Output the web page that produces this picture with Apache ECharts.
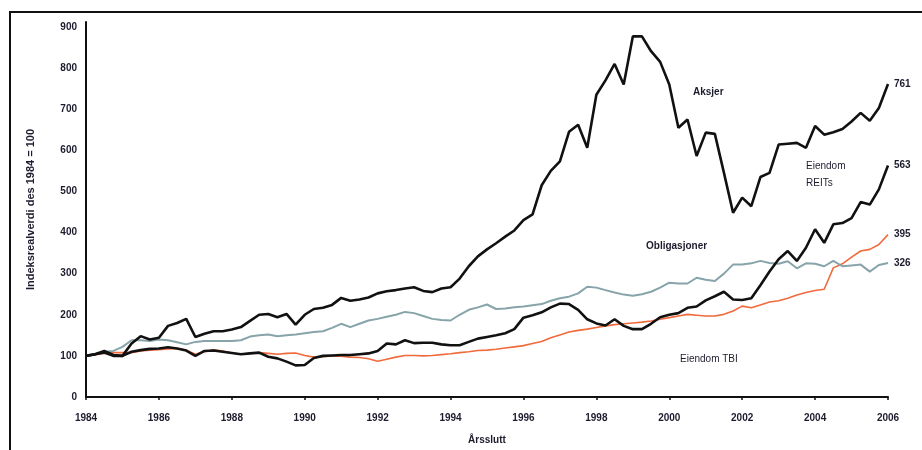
<!DOCTYPE html>
<html>
<head>
<meta charset="utf-8">
<script src="https://cdn.jsdelivr.net/npm/echarts@6/dist/echarts.min.js"></script>
<style>
  html, body { margin: 0; padding: 0; background: #fff; }
  #chart { width: 922px; height: 450px; }
</style>
</head>
<body>
<div id="chart"></div>
<script>
// quarterly index values, des 1984 = 100
const quarters = [];
for (let i = 0; i <= 88; i++) quarters.push(1984 + i / 4);

const aksjer = [
  100, 104, 112, 102, 100, 130, 148, 140, 144, 173, 180, 190,
  146, 154, 160, 160, 164, 170, 185, 200, 202, 194, 202, 176,
  200, 214, 217, 224, 241, 234, 237, 242, 252, 257, 260, 264,
  267, 258, 255, 264, 267, 288, 318, 342, 359, 374, 390, 405,
  430, 444, 515, 550, 573, 645, 662, 606, 735, 770, 810, 760,
  877, 877, 841, 815, 760, 655, 675, 586, 643, 640, 545, 448,
  485, 464, 535, 545, 614, 616, 618, 606, 659, 638, 644, 652,
  670, 691, 672, 703, 761
];
const reits = [
  100, 104, 108, 100, 100, 110, 114, 117, 118, 121, 118, 113,
  100, 112, 113, 110, 107, 104, 106, 108, 98, 94, 86, 77,
  78, 95, 100, 101, 102, 102, 104, 106, 112, 130, 128, 138,
  131, 132, 132, 128, 126, 126, 134, 142, 146, 150, 155, 165,
  193, 199, 206, 218, 227, 226, 212, 189, 179, 174, 189, 173,
  165, 165, 178, 194, 200, 204, 217, 220, 235, 245, 256, 237,
  236, 240, 272, 305, 335, 355, 331, 363, 408, 375, 420, 423,
  435, 474, 468, 505, 563
];
const obligasjoner = [
  100, 104, 110, 112, 122, 138, 138, 136, 140, 138, 133, 128,
  134, 136, 136, 136, 136, 138, 147, 150, 152, 148, 150, 152,
  155, 158, 160, 168, 178, 170, 178, 186, 190, 195, 200, 207,
  204, 197, 190, 187, 186, 200, 212, 218, 225, 214, 215, 218,
  220, 223, 226, 234, 240, 244, 252, 268, 266, 260, 254, 249,
  246, 250, 256, 266, 278, 276, 276, 290, 285, 282, 300, 322,
  322, 325, 331, 326, 324, 330, 313, 325, 324, 318, 331, 318,
  320, 322, 305, 321, 326
];
const tbi = [
  100, 103, 106, 108, 108, 108, 112, 114, 115, 117, 118, 114,
  104, 110, 115, 112, 107, 104, 106, 108, 106, 104, 106, 107,
  101, 97, 98, 100, 99, 97, 96, 93, 87, 92, 97, 101,
  101, 100, 101, 103, 105, 108, 110, 113, 114, 116, 119, 122,
  125, 130, 135, 144, 151, 158, 162, 165, 169, 173, 176, 178,
  180, 182, 185, 189, 193, 197, 201, 199, 197, 197, 201, 209,
  221, 217, 224, 231, 234, 240, 248, 254, 259, 262, 314, 324,
  340, 355, 359, 371, 395
];

const textColor = '#1c1c2e';
const font = 'Liberation Sans, Arial, sans-serif';

function pairs(values) {
  return quarters.map((q, i) => [q, values[i]]);
}

function lineSeries(name, values, color, width) {
  return {
    name: name,
    type: 'line',
    data: pairs(values),
    showSymbol: false,
    symbol: 'none',
    lineStyle: { color: color, width: width },
    itemStyle: { color: color },
    endLabel: {
      show: true,
      distance: 6,
      color: textColor,
      fontFamily: font,
      fontSize: 10,
      fontWeight: 'bold',
      formatter: p => String(p.value[1])
    },
    z: width > 2 ? 3 : 2
  };
}

const chart = echarts.init(document.getElementById('chart'));

chart.setOption({
  animation: false,
  grid: { left: 86, right: 34, top: 22, bottom: 53 },
  xAxis: {
    type: 'value',
    min: 1984,
    max: 2006,
    interval: 2,
    name: 'Årsslutt',
    nameLocation: 'middle',
    nameGap: 38,
    nameTextStyle: { color: textColor, fontFamily: font, fontSize: 10, fontWeight: 'bold' },
    splitLine: { show: false },
    axisLine: { lineStyle: { color: '#111', width: 2 } },
    axisTick: { show: true, length: 3, lineStyle: { color: '#111', width: 1.5 } },
    axisLabel: {
      color: textColor, fontFamily: font, fontSize: 10, fontWeight: 'bold', margin: 16,
      formatter: v => String(v)
    }
  },
  yAxis: {
    type: 'value',
    min: 0,
    max: 912,
    interval: 100,
    name: 'Indeksrealverdi des 1984 = 100',
    nameLocation: 'middle',
    nameGap: 50,
    nameRotate: 90,
    nameTextStyle: { color: textColor, fontFamily: font, fontSize: 11, fontWeight: 'bold' },
    splitLine: { show: false },
    axisLine: { show: true, lineStyle: { color: '#111', width: 2 } },
    axisTick: { show: false },
    axisLabel: { color: textColor, fontFamily: font, fontSize: 10, fontWeight: 'bold', margin: 9, showMaxLabel: false }
  },
  series: [
    lineSeries('Eiendom TBI', tbi, '#f06a3c', 1.6),
    lineSeries('Obligasjoner', obligasjoner, '#86a4a9', 2),
    lineSeries('Eiendom REITs', reits, '#111', 2.6),
    lineSeries('Aksjer', aksjer, '#111', 2.6)
  ],
  graphic: [
    { type: 'rect', shape: { x: 10, y: 12, width: 940, height: 460 },
      style: { fill: 'none', stroke: '#111', lineWidth: 2 }, silent: true },
    { type: 'text', left: 693, top: 87,
      style: { text: 'Aksjer', fill: textColor, font: 'bold 10px ' + font } },
    { type: 'text', left: 806, top: 158,
      style: { text: 'Eiendom\nREITs', fill: textColor, font: '10px ' + font, lineHeight: 17 } },
    { type: 'text', left: 646, top: 241,
      style: { text: 'Obligasjoner', fill: textColor, font: 'bold 10px ' + font } },
    { type: 'text', left: 680, top: 354,
      style: { text: 'Eiendom TBI', fill: textColor, font: '10px ' + font } }
  ]
});
</script>
</body>
</html>
